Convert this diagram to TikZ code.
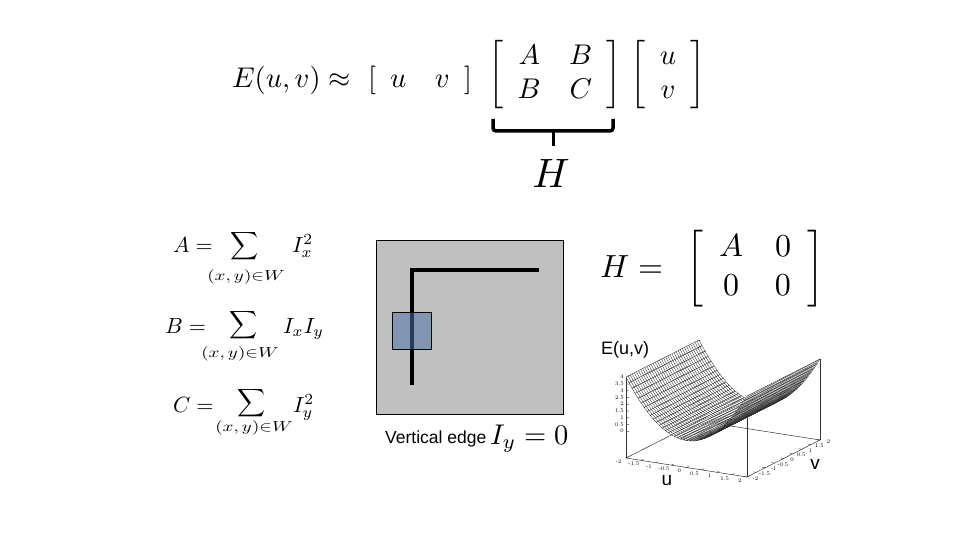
\documentclass[tikz,border=0pt]{standalone}
\usepackage{fontspec}
\usepackage{graphicx}
\newfontfamily\arialf{Liberation Sans}
\newcommand{\mysm}[2]{\scalebox{#1}{$#2$}}
\newcommand{\mysub}{\scalebox{1.9}[1.45]{$(x,y){\in}W$}}
\definecolor{boxgray}{RGB}{192,192,192}
\definecolor{winblue}{RGB}{75,113,170}
\tikzset{
  mth/.style={inner sep=0pt, outer sep=0pt},
  lbl/.style={inner sep=0pt, font=\arialf\fontsize{17.5}{20}\selectfont},
  plbl/.style={inner sep=0pt, font=\arialf\fontsize{18}{20}\selectfont},
  ticklbl/.style={inner sep=0pt, font=\fontsize{5.5}{6}\selectfont},
  mesh/.style={fill=white, draw=black!90, line width=0.3pt},
  meshline/.style={draw=black!90, line width=0.3pt},
  plotaxis/.style={draw=black!80, line width=0.5pt},
  bracepath/.style={line width=3.5pt, rounded corners=3pt},
}
\begin{document}
\begin{tikzpicture}[x=1pt,y=-1pt]
\useasboundingbox (0,0) rectangle (960,540);
\fill[white] (0,0) rectangle (960,540);

% ---------- top equation ----------
\node[mth, anchor=base west] (Euv) at (232,88) {\mysm{2.85}{E(u,v)\approx}};
\node[mth, anchor=base west] (row) at (368,88) {\mysm{2.85}{[\begin{array}{cc}u&v\end{array}]}};
\node[mth] (Mtop) at (555,75) {\mysm{2.85}{\left[\begin{array}{cc}A&B\\B&C\end{array}\right]}};
\node[mth] (Vtop) at (668,75) {\mysm{2.85}{\left[\begin{array}{c}u\\v\end{array}\right]}};

% underbrace
\coordinate (bA) at (493,119);
\coordinate (bB) at (493,131);
\coordinate (bC) at (613,131);
\coordinate (bD) at (613,119);
\coordinate (bM) at (553,131);
\coordinate (bT) at (553,146);
\draw[bracepath] (bA) -- (bB) -- (bC) -- (bD);
\draw[line width=3pt] (bM) -- (bT);
\node[mth, anchor=base] (Hbig) at (551,187) {\mysm{4.1}{H}};

% ---------- left formulas ----------
\node[mth, anchor=base west] (Aeq) at (173,252) {\mysm{2.2}{A=}};
\node[mth] (Asum) at (245,246.5) {\mysm{1.95}{\displaystyle\sum}};
\node[mth] (Asub) at (246,277) {\mysub};
\node[mth, anchor=base west] (Aterm) at (292,252) {\mysm{2.2}{I_x^2}};

\node[mth, anchor=base west] (Beq) at (165,333) {\mysm{2.2}{B=}};
\node[mth] (Bsum) at (244,325.5) {\mysm{1.95}{\displaystyle\sum}};
\node[mth] (Bsub) at (240,353.5) {\mysub};
\node[mth, anchor=base west] (Bterm) at (283,333) {\mysm{2.2}{I_xI_y}};

\node[mth, anchor=base west] (Ceq) at (173,412) {\mysm{2.2}{C=}};
\node[mth] (Csum) at (252,403.5) {\mysm{1.95}{\displaystyle\sum}};
\node[mth] (Csub) at (254,428) {\mysub};
\node[mth, anchor=base west] (Cterm) at (293,412) {\mysm{2.2}{I_y^2}};

% ---------- middle picture ----------
\filldraw[fill=boxgray, draw=black, line width=0.8pt] (376,240) rectangle (563,414);
\draw[line width=4.5pt] (412,385) -- (412,270) -- (539,270);
\filldraw[fill=winblue, fill opacity=0.53, draw=black, line width=0.8pt] (392,312) rectangle (431,349);
\node[lbl, anchor=base west] (vedge) at (385,443) {Vertical edge};
\node[mth, anchor=base west] (Iy) at (490,444) {\mysm{2.85}{I_y=0}};

% ---------- right matrix ----------
\node[mth, anchor=base west] (Heq) at (600,277) {\mysm{3.2}{H=}};
\node[mth] (Mright) at (755,268.5) {\mysm{3.2}{\left[\begin{array}{cc}A&0\\0&0\end{array}\right]}};

% ---------- surface plot ----------
\node[plbl] (Elab) at (625,350) {E(u,v)};
\node[plbl, font=\arialf\fontsize{19}{20}\selectfont] (ulab) at (667,481) {u};
\node[plbl, font=\arialf\fontsize{19}{20}\selectfont] (vlab) at (815,464) {v};

\begin{scope}[shift={(723,449)}, x={(30.25pt,-4.75pt)}, y={(18.25pt,9.25pt)}, z={(0pt,13.5pt)}]
  % base plane and vertical corner lines
  \draw[plotaxis] (-2,-2,0) -- (2,-2,0) -- (2,2,0) -- (-2,2,0) -- cycle;
  \draw[plotaxis] (-2,-2,0) -- (-2,-2,6);
  \draw[plotaxis] (2,2,0) -- (2,2,6);
  \draw[plotaxis] (-2,2,0) -- (-2,2,6);
  \draw[plotaxis] (2,-2,0) -- (2,-2,6);
  % ticks and labels
  \foreach \t [count=\k] in {-2,-1.5,-1,-0.5,0,0.5,1,1.5,2} {
    \draw[plotaxis, line width=0.4pt] (\t,-2,0) -- (\t,-1.88,0);
    \draw[plotaxis, line width=0.4pt] (2,\t,0) -- (1.9,\t,0);
    \node[ticklbl] (ut\k) at (\t,-2.4,0) {\t};
    \node[ticklbl] (vt\k) at (2.28,\t,0) {\t};
  }
  \foreach \t [count=\k] in {0,0.5,1,1.5,2,2.5,3,3.5,4} {
    \draw[plotaxis, line width=0.4pt] (-2,-2,\t+2) -- (-1.9,-2,\t+2);
    \node[ticklbl, anchor=east] (zt\k) at ([xshift=-2pt]-2,-2,\t+2) {\t};
  }
  % surface z = u^2 (shown lifted by 2), painted from back (u=-2) to front (u=2)
  \foreach \i in {0,...,39} {
    \pgfmathsetmacro\ua{-2+\i*4/40}
    \pgfmathsetmacro\ub{-2+(\i+1)*4/40}
    \pgfmathsetmacro\za{\ua*\ua+2}
    \pgfmathsetmacro\zb{\ub*\ub+2}
    \filldraw[mesh] (\ua,-2,\za) -- (\ub,-2,\zb) -- (\ub,2,\zb) -- (\ua,2,\za) -- cycle;
    \foreach \j in {1,...,34} {
      \pgfmathsetmacro\vv{-2+\j*4/35}
      \draw[meshline] (\ua,\vv,\za) -- (\ub,\vv,\zb);
    }
  }
\end{scope}
\end{tikzpicture}
\end{document}
